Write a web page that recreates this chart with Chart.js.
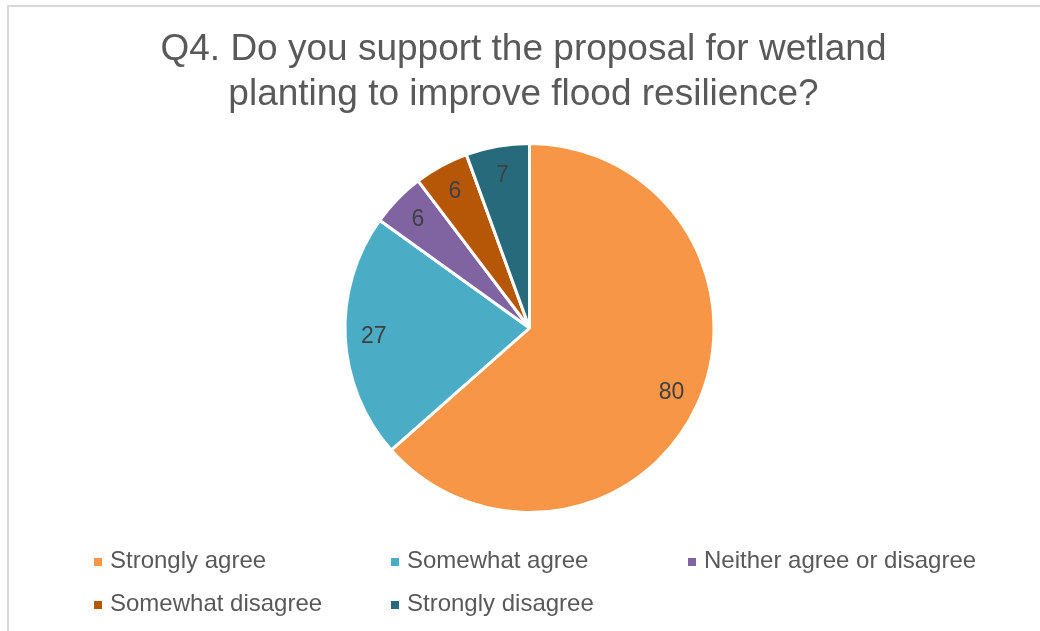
<!DOCTYPE html>
<html>
<head>
<meta charset="utf-8">
<script src="https://cdn.jsdelivr.net/npm/chart.js@4.4.1/dist/chart.umd.min.js"></script>
<style>
    body {
        margin: 0;
        background: #ffffff;
        font-family: 'Liberation Sans', Arial, sans-serif;
    }
    #frame {
        position: absolute;
        left: 7px;
        top: 5px;
        width: 1100px;
        height: 700px;
        border: 2px solid #d9d9d9;
    }
    #title {
        position: absolute;
        left: 0;
        top: 25px;
        width: 1047px;
        text-align: center;
        font-size: 37px;
        line-height: 45px;
        color: #595959;
    }
    #pieChart {
        position: absolute;
        left: 0;
        top: 0;
    }
    #legend {
        position: absolute;
        left: 94px;
        top: 538px;
        display: grid;
        grid-template-columns: 297px 297px 297px;
        grid-auto-rows: 43px;
        font-size: 24px;
        line-height: 43px;
        color: #595959;
        white-space: nowrap;
    }
    #legend .box {
        display: inline-block;
        width: 8px;
        height: 8px;
        margin-right: 8px;
        vertical-align: middle;
    }
</style>
</head>
<body>
<div id="frame"></div>
<canvas id="pieChart" width="1040" height="631"></canvas>
<div id="title">Q4. Do you support the proposal for wetland<br>planting to improve flood resilience?</div>
<div id="legend"></div>

<script>
const answers = [
    'Strongly agree', 'Somewhat agree', 'Neither agree or disagree',
    'Somewhat disagree', 'Strongly disagree'
];
const responses = [80, 27, 6, 6, 7];
const sliceColors = ['#F79646', '#4BACC6', '#8064A2', '#B65708', '#276A7C'];

// value labels inside each slice
const sliceLabels = {
    id: 'sliceLabels',
    afterDatasetsDraw(chart) {
        const ctx = chart.ctx;
        const meta = chart.getDatasetMeta(0);
        ctx.save();
        ctx.font = '23px "Liberation Sans", Arial, sans-serif';
        ctx.fillStyle = '#404040';
        ctx.textAlign = 'center';
        ctx.textBaseline = 'middle';
        meta.data.forEach((arc, i) => {
            const mid = (arc.startAngle + arc.endAngle) / 2;
            const r = arc.outerRadius * 0.845;
            ctx.fillText(String(responses[i]), arc.x + Math.cos(mid) * r, arc.y + Math.sin(mid) * r + 1);
        });
        ctx.restore();
    }
};

const pieCtx = document.getElementById('pieChart').getContext('2d');
const pieChart = new Chart(pieCtx, {
    type: 'pie',
    data: {
        labels: answers,
        datasets: [{
            data: responses,
            backgroundColor: sliceColors,
            borderColor: '#ffffff',
            borderWidth: 3
        }]
    },
    options: {
        responsive: false,
        animation: false,
        layout: {
            padding: { top: 142, bottom: 117, left: 19, right: 0 }
        },
        plugins: {
            legend: { display: false },
            title: { display: false },
            tooltip: { enabled: false }
        }
    },
    plugins: [sliceLabels]
});

// legend in a three column grid like the original
const legendBox = document.getElementById('legend');
answers.forEach((name, i) => {
    const item = document.createElement('div');
    item.innerHTML = '<span class="box" style="background:' + sliceColors[i] + '"></span>' + name;
    legendBox.appendChild(item);
});
</script>
</body>
</html>
